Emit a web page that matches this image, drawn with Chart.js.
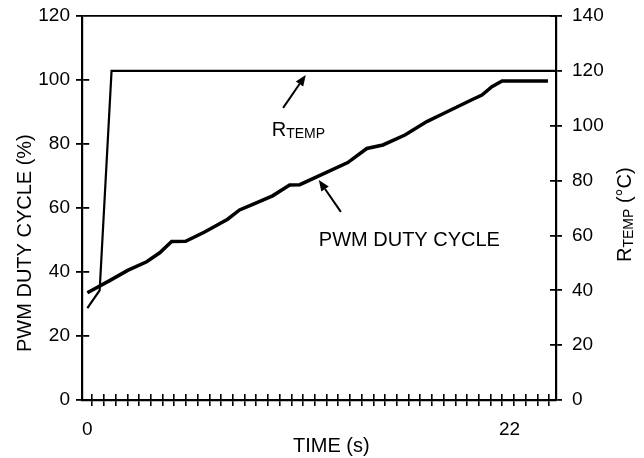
<!DOCTYPE html>
<html>
<head>
<meta charset="utf-8">
<script src="https://cdn.jsdelivr.net/npm/chart.js@4.4.1/dist/chart.umd.min.js"></script>
<style>
  html, body { margin: 0; padding: 0; background: #fff; }
</style>
</head>
<body>
<canvas id="myChart" width="644" height="458"></canvas>
<script>
// PWM duty cycle (%) against time (s), left axis
const pwmTime = [0, 1.16, 2.10, 3.09, 3.77, 4.39, 5.12, 6.11, 7.31, 7.93, 8.56, 9.65, 10.54, 11.07, 13.57, 14.56, 15.40, 16.55, 17.69, 18.37, 20.09, 20.56, 21.08, 21.61, 24.0];
const pwmDuty = [33.5, 37.3, 40.5, 43.2, 46, 49.5, 49.6, 52.5, 56.5, 59.4, 61, 63.8, 67.2, 67.3, 74.2, 78.6, 79.7, 82.8, 87.0, 89, 94, 95.3, 97.9, 99.7, 99.7];

// R_TEMP (°C) against time (s), right axis
const rtempTime = [0, 0.64, 1.26, 24.42];
const rtempVal = [33.5, 40, 120, 120];

// axis ticks
const timeLabels = [0, 22];
const dutyTicks = [0, 20, 40, 60, 80, 100, 120];
const tempTicks = [0, 20, 40, 60, 80, 100, 120, 140];
const timeMin = -0.28, timeMax = 24.42;
const timeTickMarks = Array.from({length: 40}, (_, i) => 0.256 + i * 0.6103);

const FONT = "'Liberation Sans', Arial, Helvetica, sans-serif";
const TICK = 6;

Chart.defaults.color = '#000';
Chart.defaults.font.family = FONT;
Chart.defaults.font.size = 19;

function areaSize(c) {
  const a = c.chart.chartArea;
  return a ? {w: a.right - a.left, h: a.bottom - a.top} : {w: 0, h: 0};
}

function drawParts(ctx, parts, x, y, angle, align) {
  ctx.save();
  ctx.translate(x, y);
  ctx.rotate(angle);
  ctx.textBaseline = 'alphabetic';
  ctx.textAlign = 'left';
  let total = 0;
  parts.forEach(p => {
    ctx.font = p.size + 'px ' + FONT;
    total += ctx.measureText(p.text).width;
  });
  let pos = align === 'center' ? -total / 2 : 0;
  parts.forEach(p => {
    ctx.font = p.size + 'px ' + FONT;
    ctx.fillText(p.text, pos, p.dy || 0);
    pos += ctx.measureText(p.text).width;
  });
  ctx.restore();
}

function drawArrow(ctx, x1, y1, x2, y2) {
  const ang = Math.atan2(y2 - y1, x2 - x1);
  const len = 11, half = 4.5;
  const bx = x2 - len * Math.cos(ang), by = y2 - len * Math.sin(ang);
  ctx.lineWidth = 2;
  ctx.beginPath();
  ctx.moveTo(x1, y1);
  ctx.lineTo(bx, by);
  ctx.stroke();
  ctx.beginPath();
  ctx.moveTo(x2, y2);
  ctx.lineTo(bx + half * Math.sin(ang), by - half * Math.cos(ang));
  ctx.lineTo(bx - half * Math.sin(ang), by + half * Math.cos(ang));
  ctx.closePath();
  ctx.fill();
}

// callouts, in data units (time, duty %)
const arrows = [
  {from: [10.2, 91.3], to: [11.38, 101.6]},
  {from: [13.21, 58.8], to: [12.06, 68.75]}
];
const notes = [
  {at: [9.61, 82.5], parts: [{text: 'R', size: 20}, {text: 'TEMP', size: 14, dy: 2}]},
  {at: [12.06, 48.0], parts: [{text: 'PWM DUTY CYCLE', size: 20}]}
];

const textPlugin = {
  id: 'texts',
  afterDraw(chart) {
    const {ctx, chartArea: a, scales: {x, y}} = chart;
    ctx.save();
    ctx.fillStyle = '#000';
    ctx.strokeStyle = '#000';
    arrows.forEach(r => drawArrow(ctx,
      x.getPixelForValue(r.from[0]), y.getPixelForValue(r.from[1]),
      x.getPixelForValue(r.to[0]), y.getPixelForValue(r.to[1])));
    notes.forEach(n => drawParts(ctx, n.parts,
      x.getPixelForValue(n.at[0]), y.getPixelForValue(n.at[1]), 0, 'left'));
    // axis titles
    drawParts(ctx, [{text: 'PWM DUTY CYCLE (%)', size: 20}], a.left - 51, a.bottom - 48, -Math.PI / 2, 'left');
    drawParts(ctx, [{text: 'TIME (s)', size: 20}], a.left + 211, a.bottom + 52, 0, 'left');
    drawParts(ctx, [{text: 'R', size: 20}, {text: 'TEMP', size: 14, dy: 2}, {text: ' (°C)', size: 20}],
      a.right + 75, a.bottom - 138, -Math.PI / 2, 'left');
    ctx.restore();
  }
};

new Chart(document.getElementById('myChart'), {
  type: 'line',
  data: {
    datasets: [{
      label: 'PWM DUTY CYCLE',
      data: pwmTime.map((t, i) => ({x: t, y: pwmDuty[i]})),
      borderColor: '#000',
      borderWidth: 3.5,
      pointRadius: 0,
      tension: 0,
      xAxisID: 'x',
      yAxisID: 'y'
    }, {
      label: 'RTEMP',
      data: rtempTime.map((t, i) => ({x: t, y: rtempVal[i]})),
      borderColor: '#000',
      borderWidth: 2.2,
      pointRadius: 0,
      tension: 0,
      xAxisID: 'x',
      yAxisID: 'y1'
    }]
  },
  options: {
    responsive: false,
    animation: false,
    layout: {padding: {top: 16, left: 0, right: 0, bottom: 0}},
    plugins: {legend: {display: false}, tooltip: {enabled: false}},
    scales: {
      x: {
        type: 'linear',
        position: 'bottom',
        weight: 0,
        min: timeMin,
        max: timeMax,
        afterBuildTicks: s => { s.ticks = timeTickMarks.map(v => ({value: v})); },
        afterFit: s => { s.height = TICK; s.paddingLeft = 0; s.paddingRight = 0; },
        ticks: {display: false},
        grid: {color: '#000', lineWidth: 1.6, tickWidth: 1.6, tickColor: '#000', tickLength: TICK},
        border: {color: '#000', width: 2.2, dash: c => [0, areaSize(c).h - TICK, TICK, 3000]}
      },
      xl: {
        type: 'linear',
        position: 'bottom',
        weight: 1,
        min: timeMin,
        max: timeMax,
        afterBuildTicks: s => { s.ticks = timeLabels.map(v => ({value: v})); },
        afterFit: s => { s.height = 52; s.paddingLeft = 0; s.paddingRight = 0; },
        ticks: {padding: 4, maxRotation: 0, autoSkip: false},
        grid: {display: false},
        border: {display: false}
      },
      y: {
        position: 'left',
        min: 0,
        max: 120,
        afterBuildTicks: s => { s.ticks = dutyTicks.map(v => ({value: v})); },
        afterFit: s => { s.width = 82; s.paddingTop = 0; s.paddingBottom = 0; },
        ticks: {padding: 6},
        grid: {color: '#000', lineWidth: 1.8, tickWidth: 1.8, tickColor: '#000', tickLength: TICK},
        border: {color: '#000', width: 2.2, dash: c => (c.tick && c.tick.value === 120) ? [] : [TICK, 3000]}
      },
      y1: {
        position: 'right',
        min: 0,
        max: 140,
        afterBuildTicks: s => { s.ticks = tempTicks.map(v => ({value: v})); },
        afterFit: s => { s.width = 88; s.paddingTop = 0; s.paddingBottom = 0; },
        ticks: {padding: 10},
        grid: {color: '#000', lineWidth: 1.8, tickWidth: 1.8, tickColor: '#000', tickLength: TICK},
        border: {color: '#000', width: 2.2, dash: c => [0, areaSize(c).w - TICK, TICK, 3000]}
      }
    }
  },
  plugins: [textPlugin]
});
</script>
</body>
</html>
